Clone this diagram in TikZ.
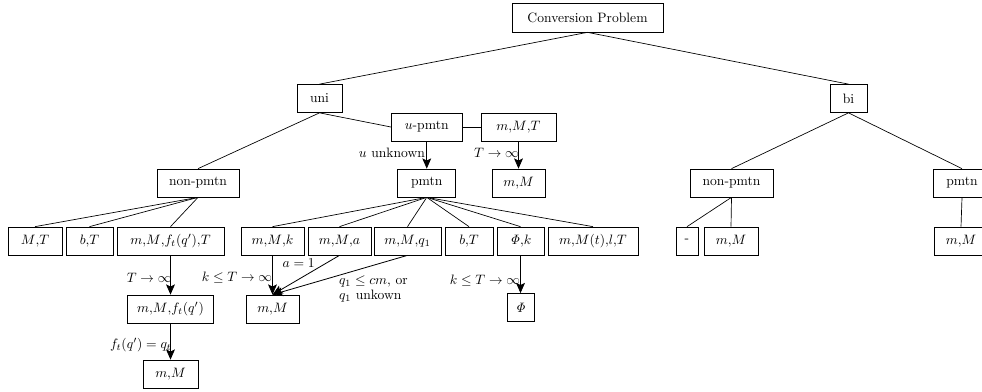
\documentclass[tikz,border=0pt]{standalone}
\usepackage{amsmath}
\usetikzlibrary{arrows.meta}
\begin{document}
\begin{tikzpicture}[x=0.735pt,y=-0.735pt, line width=0.5pt,
  bx/.style={draw, minimum height=20.6pt, minimum width=#1*0.735pt, inner xsep=1pt, inner ysep=0pt},
  arr/.style={line width=0.6pt, -{Stealth[length=7.5pt,width=6.5pt,inset=1.5pt]}},
  lb/.style={inner sep=0pt}]
\clip (0,0) rectangle (982,392);
% level 0/1
\node[bx=151, minimum height=21.3pt] (cp) at (587.5,17.5) {Conversion Problem};
\node[bx=45] (uni) at (319.5,98.5) {uni};
\node[bx=37] (bi) at (848.5,98.5) {bi};
\node[bx=71] (upm) at (426.75,127) {$u$-pmtn};
\node[bx=75] (mMT) at (518.5,127) {$m{,}M{,}T$};
% level 2
\node[bx=82] (np1) at (198,183) {non-pmtn};
\node[bx=58] (pm) at (426.75,183) {pmtn};
\node[bx=53] (mM1) at (518.5,183) {$m{,}M$};
\node[bx=83] (np2) at (731.5,183) {non-pmtn};
\node[bx=58] (pm2) at (962,183) {pmtn};
% level 3
\node[bx=54] (MT) at (35,241) {$M{,}T$};
\node[bx=47] (bT) at (89.5,241) {$b{,}T$};
\node[bx=107] (mMfT) at (170.5,241) {$m{,}M{,}f_t(q'){,}T$};
\node[bx=63] (mMk) at (272.5,241) {$m{,}M{,}k$};
\node[bx=63] (mMa) at (339.5,241) {$m{,}M{,}a$};
\node[bx=67] (mMq) at (407.5,241) {$m{,}M{,}q_1$};
\node[bx=48] (bT2) at (469,241) {$b{,}T$};
\node[bx=47] (Phk) at (520.5,241) {$\mathit{\Phi}{,}k$};
\node[bx=90] (mMt) at (593,241) {$m{,}M(t){,}l{,}T$};
\node[bx=22] (dash) at (687,241) {-};
\node[bx=54] (mM2) at (731,241) {$m{,}M$};
\node[bx=54] (mM3) at (961,241) {$m{,}M$};
% level 4
\node[bx=86] (mMf) at (170.5,309) {$m{,}M{,}f_t(q')$};
\node[bx=53] (mM4) at (272.5,309) {$m{,}M$};
\node[bx=27] (Phi) at (520.5,307.5) {$\mathit{\Phi}$};
% level 5
\node[bx=55] (mM5) at (170.5,374) {$m{,}M$};

% tree edges
\draw (cp.south) -- (uni.north);
\draw (cp.south) -- (bi.north);
\draw (uni.south) -- (np1.north);
\draw (uni.south) -- (upm.west);
\draw (upm) -- (mMT);
\draw (bi.south) -- (np2.north);
\draw (bi.south) -- (pm2.north);
\foreach \c in {MT,bT,mMfT} \draw (np1.south) -- (\c.north);
\foreach \c in {mMk,mMa,mMq,bT2,Phk,mMt} \draw (pm.south) -- (\c.north);
\draw (np2.south) -- (dash.north);
\draw (np2.south) -- (mM2.north);
\draw (pm2.south) -- (mM3.north);

% arrows
\draw[arr] (upm.south) -- node[lb, pos=0.43, anchor=east, xshift=-1pt] {$u$ unknown} (pm.north);
\draw[arr] (mMT.south) -- node[lb, pos=0.43, anchor=east, xshift=0.5pt] {$T\to\infty$} (mM1.north);
\draw[arr] (mMfT.south) -- node[lb, pos=0.575, anchor=east, xshift=1pt] {$T\to\infty$} (mMf.north);
\draw[arr] (mMf.south) -- node[lb, pos=0.6, anchor=east, xshift=1pt] {$f_t(q') = q_t$} (mM5.north);
\draw[arr] (mMk.south) -- node[lb, pos=0.575, anchor=east, xshift=0pt] {$k\leq T\to\infty$} (mM4.north);
\draw[arr] (mMa.south) -- node[lb, pos=0.2, anchor=east, xshift=-8pt] {$a=1$} (mM4.north);
\draw[arr] (mMq.south) -- node[lb, pos=0.5, anchor=north west, xshift=-1pt, align=left] {$q_1\leq cm$, or\\[-1pt]$q_1$ unkown} (mM4.north);
\draw[arr] (Phk.south) -- node[lb, pos=0.66, anchor=east, xshift=0pt] {$k\leq T\to\infty$} (Phi.north);
\end{tikzpicture}
\end{document}
